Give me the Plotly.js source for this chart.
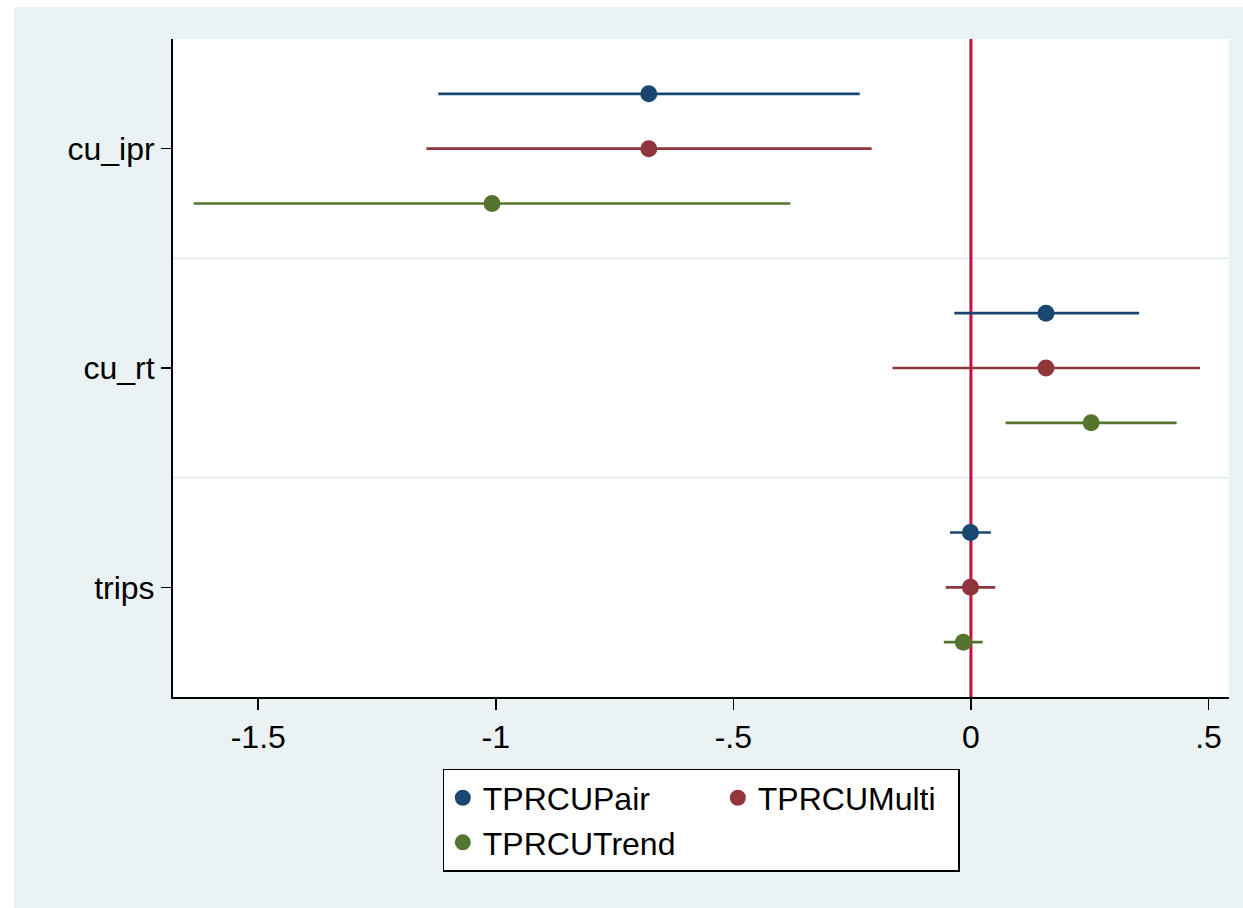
<!DOCTYPE html>
<html>
<head>
<meta charset="utf-8">
<script src="https://cdn.plot.ly/plotly-3.0.1.min.js"></script>
<style>
  html, body { margin: 0; padding: 0; background: #ffffff; }
  #chart { position: absolute; left: 14px; top: 7px; width: 1229px; height: 901px; }
</style>
</head>
<body>
<div id="chart"></div>
<script>
// Coefficient plot: point estimates with confidence intervals, three models
const categories = ['cu_ipr', 'cu_rt', 'trips'];

const pairCoef = [-0.678, 0.158, -0.001];
const pairLow  = [-1.121, -0.035, -0.044];
const pairHigh = [-0.234, 0.354, 0.042];

const multiCoef = [-0.678, 0.158, -0.001];
const multiLow  = [-1.146, -0.165, -0.053];
const multiHigh = [-0.209, 0.482, 0.051];

const trendCoef = [-1.008, 0.253, -0.016];
const trendLow  = [-1.636, 0.073, -0.057];
const trendHigh = [-0.380, 0.433, 0.025];

const seriesNames = ['TPRCUPair', 'TPRCUMulti', 'TPRCUTrend'];
const seriesColors = ['#1a476f', '#90353b', '#55752f'];

const xTickVals = [-1.5, -1, -0.5, 0, 0.5];
const xTickText = ['-1.5', '-1', '-.5', '0', '.5'];

const FONT = '"Liberation Sans", Arial, Helvetica, sans-serif';
const FONT_SIZE = 32;

// Category slots 1..n; each model is dodged within its slot
const slot = categories.map((c, i) => i + 1);
const dodge = [-0.25, 0, 0.25];

function coefTrace(k, coef, lo, hi, group, legendWidth) {
  return {
    type: 'scatter',
    mode: 'markers',
    name: seriesNames[k],
    legendgroup: group,
    legendwidth: legendWidth,
    x: coef,
    y: slot.map(s => s + dodge[k]),
    marker: { size: 17, color: seriesColors[k], line: { width: 0 } },
    error_x: {
      type: 'data',
      symmetric: false,
      array: coef.map((v, i) => hi[i] - v),
      arrayminus: coef.map((v, i) => v - lo[i]),
      color: seriesColors[k],
      thickness: 2.6,
      width: 0
    },
    hoverinfo: 'x+name'
  };
}

// Two legend columns: Pair above Trend, then Multi
const data = [
  coefTrace(0, pairCoef, pairLow, pairHigh, 'colA', 230),
  coefTrace(2, trendCoef, trendLow, trendHigh, 'colA', 230),
  coefTrace(1, multiCoef, multiLow, multiHigh, 'colB', 195)
];

const layout = {
  width: 1229,
  height: 901,
  paper_bgcolor: '#eaf2f3',
  plot_bgcolor: '#ffffff',
  margin: { l: 159.3, r: 14, t: 31.5, b: 211 },
  font: { family: FONT, size: FONT_SIZE, color: '#000000' },
  showlegend: true,
  legend: {
    orientation: 'h',
    traceorder: 'grouped',
    tracegroupgap: 0,
    x: 0.2555,
    xanchor: 'left',
    y: -0.1093,
    yanchor: 'top',
    bgcolor: '#ffffff',
    bordercolor: '#000000',
    borderwidth: 1.5,
    font: { family: FONT, size: FONT_SIZE, color: '#000000' },
    itemclick: false,
    itemdoubleclick: false
  },
  xaxis: {
    range: [-1.6794, 0.5432],
    tickmode: 'array',
    tickvals: xTickVals,
    ticktext: xTickText,
    ticks: 'outside',
    ticklen: 11,
    tickwidth: 1.5,
    tickcolor: '#000000',
    showline: true,
    linecolor: '#000000',
    linewidth: 1.5,
    showgrid: false,
    zeroline: false,
    tickfont: { family: FONT, size: FONT_SIZE, color: '#000000' },
    fixedrange: true
  },
  yaxis: {
    range: [categories.length + 0.5, 0.5],
    tickmode: 'array',
    tickvals: slot,
    ticktext: categories,
    ticks: 'outside',
    ticklen: 10,
    tickwidth: 1.5,
    tickcolor: '#000000',
    showline: true,
    linecolor: '#000000',
    linewidth: 2,
    showgrid: false,
    zeroline: false,
    tickfont: { family: FONT, size: FONT_SIZE, color: '#000000' },
    fixedrange: true
  },
  shapes: [
    // separators between coefficient groups
    ...slot.slice(0, -1).map(s => ({
      type: 'line', xref: 'paper', yref: 'y',
      x0: 0, x1: 1, y0: s + 0.5, y1: s + 0.5,
      line: { color: '#eaf2f3', width: 2.5 },
      layer: 'below'
    })),
    // reference line at zero
    {
      type: 'line', xref: 'x', yref: 'paper',
      x0: 0, x1: 0, y0: 0, y1: 1,
      line: { color: '#c80f3c', width: 3 },
      layer: 'below'
    }
  ]
};

Plotly.newPlot('chart', data, layout, { displayModeBar: false, staticPlot: true });
</script>
</body>
</html>
